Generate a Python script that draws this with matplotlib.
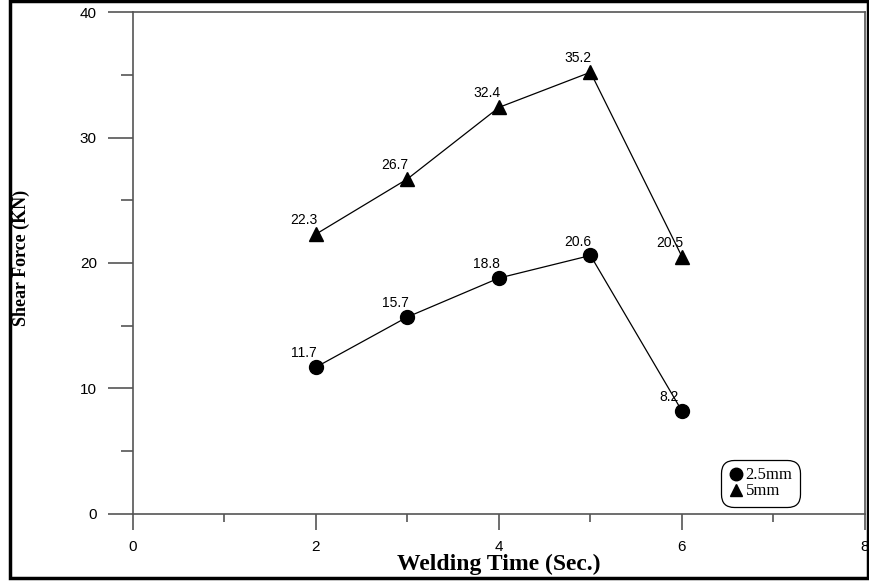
import matplotlib.pyplot as plt
from matplotlib.lines import Line2D
from matplotlib.patches import Rectangle

# данные
time = [2, 3, 4, 5, 6]
force_25 = [11.7, 15.7, 18.8, 20.6, 8.2]
force_5 = [22.3, 26.7, 32.4, 35.2, 20.5]
labels_25 = ['11.7', '15.7', '18.8', '20.6', '8.2']
labels_5 = ['22.3', '26.7', '32.4', '35.2', '20.5']

fig = plt.figure(figsize=(8.69, 5.83), dpi=100)
ax = fig.add_axes([0.153, 0.1184, 0.8424, 0.861])

ax.plot(time, force_25, color='black', lw=0.9, marker='o', markersize=10)
ax.plot(time, force_5, color='black', lw=0.9, marker='^', markersize=10)

for x, y, t in zip(time, force_25, labels_25):
    ax.annotate(t, (x, y), xytext=(-9, 10), textcoords='offset points',
                ha='center', va='center', fontsize=10, family='Liberation Sans')
for x, y, t in zip(time, force_5, labels_5):
    ax.annotate(t, (x, y), xytext=(-9, 10), textcoords='offset points',
                ha='center', va='center', fontsize=10, family='Liberation Sans')

ax.set_xlim(0, 8)
ax.set_ylim(0, 40)
ax.set_xticks([0, 2, 4, 6, 8])
ax.set_xticks([1, 3, 5, 7], minor=True)
ax.set_yticks([0, 10, 20, 30, 40])
ax.set_yticks([5, 15, 25, 35], minor=True)

spine_c = '#555555'
for s in ax.spines.values():
    s.set_color(spine_c)
    s.set_linewidth(1.2)

ax.tick_params(axis='x', which='major', direction='out', length=11.5, width=1.2,
               color=spine_c, pad=7, labelsize=11)
ax.tick_params(axis='x', which='minor', direction='out', length=6, width=1.2, color=spine_c)
ax.tick_params(axis='y', which='major', direction='out', length=18, width=1.2,
               color=spine_c, pad=8, labelsize=11)
ax.tick_params(axis='y', which='minor', direction='out', length=8.6, width=1.2, color=spine_c)
for lab in ax.get_xticklabels() + ax.get_yticklabels():
    lab.set_family('Liberation Sans')

ax.set_xlabel('Welding Time (Sec.)', fontsize=17, fontweight='bold',
              family='Liberation Serif', labelpad=0)
ax.set_ylabel('Shear Force (KN)', fontsize=13, fontweight='bold',
              family='Liberation Serif')
ax.yaxis.set_label_coords(-0.14, 0.51)

handles = [Line2D([], [], color='black', marker='o', ls='none', markersize=9),
           Line2D([], [], color='black', marker='^', ls='none', markersize=9)]
leg = ax.legend(handles, ['2.5mm', '5mm'], loc='center', bbox_to_anchor=(0.857, 0.061),
                prop={'family': 'Liberation Serif', 'size': 12}, handlelength=1.0,
                handletextpad=0.05, borderpad=0.1, labelspacing=0.0,
                fancybox=True, framealpha=1, borderaxespad=0)
leg.get_frame().set_edgecolor('black')
leg.get_frame().set_linewidth(0.9)
leg.get_frame().set_boxstyle('round,pad=0.35,rounding_size=0.8')

# рамка вокруг рисунка
fig.patches.append(Rectangle((9.5 / 869, 0.0086), 858 / 869, 0.989,
                             transform=fig.transFigure, fill=False,
                             edgecolor='black', linewidth=2.5))

fig.savefig('out.png', dpi=100)
